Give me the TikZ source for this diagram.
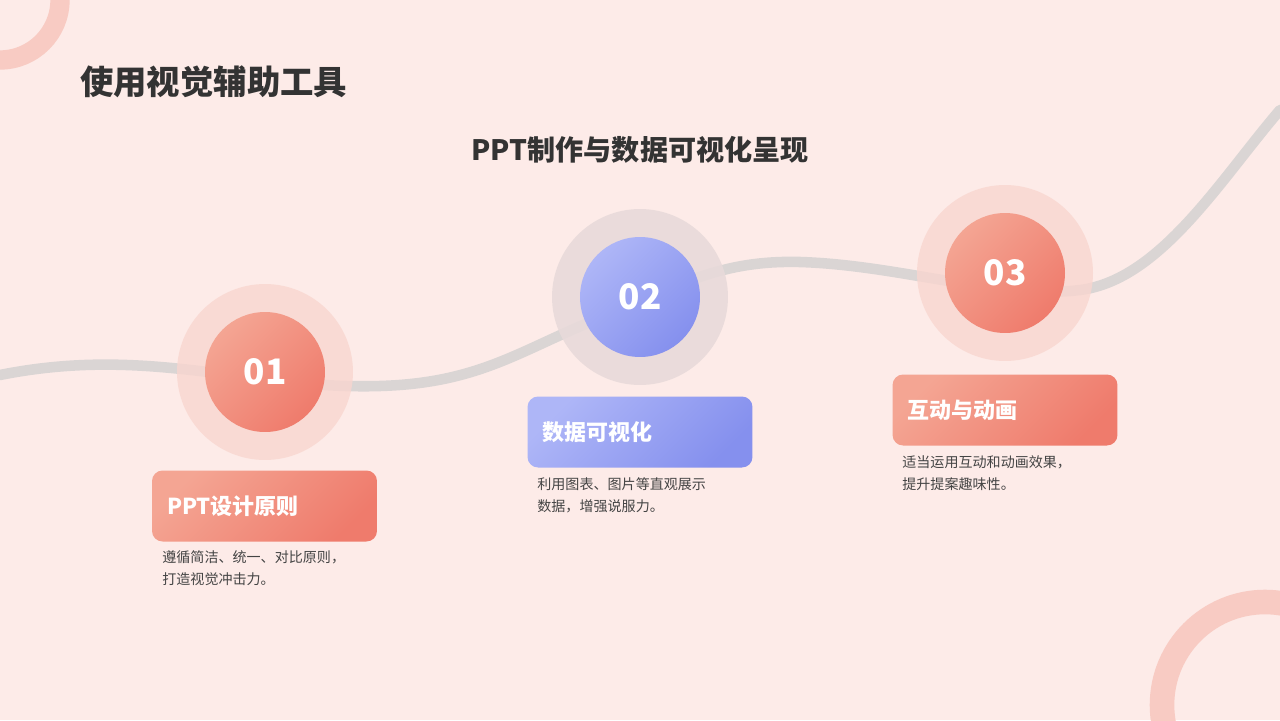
\documentclass[tikz,border=0pt]{standalone}
\usepackage{fontspec}
\setmainfont{Noto Sans CJK SC}
\definecolor{bgpink}{HTML}{FDEBE8}
\definecolor{ringpink}{HTML}{F8CBC3}
\definecolor{halopink}{HTML}{F9D6CF}
\definecolor{halogray}{HTML}{E8DADA}
\definecolor{salmonA}{HTML}{EF7B6C}
\definecolor{salmonB}{HTML}{F4A593}
\definecolor{blueA}{HTML}{8590EE}
\definecolor{blueB}{HTML}{AEB6F7}
\definecolor{textdark}{HTML}{333333}
\definecolor{textgray}{HTML}{444444}
\tikzset{
  halo/.style={circle,minimum size=176*0.2mm,inner sep=0pt},
  numdot/.style={circle,minimum size=120*0.2mm,inner sep=0pt,text=white,font=\bfseries\fontsize{20}{24}\selectfont},
  salmonfill/.style={top color=salmonB,bottom color=salmonA,shading angle=45},
  bluefill/.style={top color=blueB,bottom color=blueA,shading angle=45},
  labelbox/.style={rounded corners=6pt,minimum width=225*0.2mm,minimum height=71*0.2mm,text width=195*0.2mm,align=left,text=white,font=\bfseries\fontsize{12.5}{15}\selectfont},
  desc/.style={anchor=north west,align=left,text=textgray,font=\fontsize{8}{12.5}\selectfont,inner sep=0pt}
}
\begin{document}
\begin{tikzpicture}[x=0.02cm,y=-0.02cm]
    \fill[bgpink] (0,0) rectangle (1280,720);
    \useasboundingbox (0,0) rectangle (1280,720);
    % corner rings
    \draw[ringpink,line width=11pt] (0,0) circle[radius=60];
    \draw[ringpink,line width=14pt] (1265,705) circle[radius=103];

    \node[anchor=west,text=textdark,font=\bfseries\fontsize{19}{22}\selectfont] (title) at (74,82) {使用视觉辅助工具};
    \node[text=textdark,font=\bfseries\fontsize{16}{19}\selectfont] (subtitle) at (640,150) {PPT制作与数据可视化呈现};

    % wave
    \draw[gray!40,opacity=0.7,line width=6pt,line cap=round] (0,375) .. controls (150,345) and (250,390) .. (380,386)
      .. controls (480,383) and (520,350) .. (600,318) .. controls (680,285) and (720,260) .. (800,262)
      .. controls (900,265) and (1000,300) .. (1080,290) .. controls (1160,280) and (1220,180) .. (1280,110);

    % steps
    \node[halo,fill=halopink,opacity=0.8] (h1) at (265,372) {};
    \node[numdot,salmonfill] (n1) at (265,372) {01};
    \node[halo,fill=halogray,opacity=0.9] (h2) at (640,297) {};
    \node[numdot,bluefill] (n2) at (640,297) {02};
    \node[halo,fill=halopink,opacity=0.8] (h3) at (1005,273) {};
    \node[numdot,salmonfill] (n3) at (1005,273) {03};

    \node[labelbox,salmonfill] (b1) at (264.5,506) {PPT设计原则};
    \node[labelbox,bluefill] (b2) at (640,432) {数据可视化};
    \node[labelbox,salmonfill] (b3) at (1005,410) {互动与动画};

    \node[desc] (d1) at (162,550) {遵循简洁、统一、对比原则，\\打造视觉冲击力。};
    \node[desc] (d2) at (537,477) {利用图表、图片等直观展示\\数据，增强说服力。};
    \node[desc] (d3) at (902,455) {适当运用互动和动画效果，\\提升提案趣味性。};
\end{tikzpicture}
\end{document}
